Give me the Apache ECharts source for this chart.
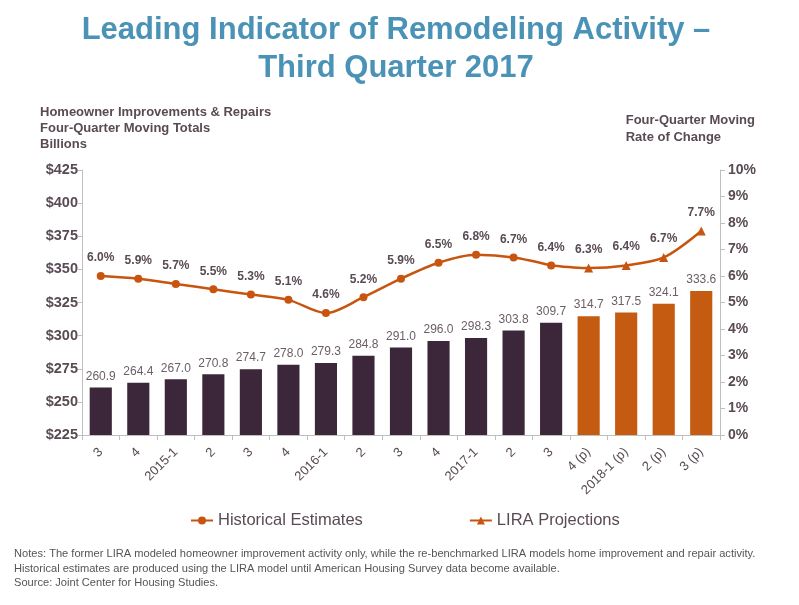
<!DOCTYPE html>
<html lang="en">
<head>
    <meta charset="UTF-8">
    <title>LIRA Third Quarter 2017</title>
    <script src="https://cdn.jsdelivr.net/npm/echarts@6/dist/echarts.min.js"></script>
    <style>
        html, body { margin: 0; padding: 0; background: #ffffff; }
        #chart { width: 799px; height: 605px; }
    </style>
</head>
<body>
<div id="chart"></div>
<script>
    // quarters along the x axis
    var quarters = ['3', '4', '2015-1', '2', '3', '4', '2016-1', '2', '3', '4',
        '2017-1', '2', '3', '4 (p)', '2018-1 (p)', '2 (p)', '3 (p)'];
    // four-quarter moving totals, billions
    var spending = [260.9, 264.4, 267.0, 270.8, 274.7, 278.0, 279.3, 284.8, 291.0,
        296.0, 298.3, 303.8, 309.7, 314.7, 317.5, 324.1, 333.6];
    // rate of change, %
    var histRate = [6.0, 5.9, 5.7, 5.5, 5.3, 5.1, 4.6, 5.2, 5.9, 6.5, 6.8, 6.7, 6.4];
    var projRate = [6.3, 6.4, 6.7, 7.7];
    var leftTicks = [225, 425, 25];
    var rightTicks = [0, 10, 1];

    var textCol = '#594a54';
    var font = '"Liberation Sans", Arial, sans-serif';
    var nHist = histRate.length;

    var barData = spending.map(function (v, i) {
        return { value: v, itemStyle: { color: i < nHist ? '#3c2639' : '#c55a11' } };
    });
    var histData = histRate.slice();
    // projection line starts at last historical point so the curve is joined
    var projData = [];
    for (var i = 0; i < nHist - 1; i++) projData.push('-');
    projData.push({ value: histRate[nHist - 1], symbol: 'none', label: { show: false } });
    projRate.forEach(function (v) { projData.push(v); });

    var chart = echarts.init(document.getElementById('chart'));
    var option = {
        backgroundColor: '#ffffff',
        textStyle: { fontFamily: font },
        animation: false,
        graphic: [
            {
                type: 'text', x: 396, y: 11,
                style: {
                    text: 'Leading Indicator of Remodeling Activity –\nThird Quarter 2017',
                    align: 'center', fill: '#4a93b6', font: 'bold 31px ' + font, lineHeight: 38
                }
            },
            {
                type: 'text', left: 40, top: 104,
                style: {
                    text: 'Homeowner Improvements & Repairs\nFour-Quarter Moving Totals\nBillions',
                    fill: textCol, font: 'bold 13px ' + font, lineHeight: 16
                }
            },
            {
                type: 'text', right: 44, top: 112,
                style: {
                    text: 'Four-Quarter Moving\nRate of Change', align: 'right',
                    fill: textCol, font: 'bold 13px ' + font, lineHeight: 17
                }
            },
            {
                type: 'text', left: 14, top: 547,
                style: {
                    text: 'Notes: The former LIRA modeled homeowner improvement activity only, while the re-benchmarked LIRA models home improvement and repair activity.\n' +
                        'Historical estimates are produced using the LIRA model until American Housing Survey data become available.\n' +
                        'Source: Joint Center for Housing Studies.',
                    fill: '#555555', font: '11.1px "Liberation Sans Narrow", ' + font, lineHeight: 14.5
                }
            }
        ],
        legend: {
            bottom: 71,
            left: 185,
            itemGap: 106,
            itemWidth: 22,
            itemHeight: 10,
            data: ['Historical Estimates', 'LIRA Projections'],
            textStyle: { color: textCol, fontSize: 16.5, fontFamily: font }
        },
        grid: { left: 82, right: 79, top: 170, bottom: 170 },
        xAxis: {
            type: 'category',
            data: quarters,
            axisLine: { lineStyle: { color: '#bfbfbf' } },
            axisTick: { show: true, length: 5, lineStyle: { color: '#bfbfbf' } },
            axisLabel: { rotate: 45, color: textCol, fontSize: 13, margin: 15 }
        },
        yAxis: [
            {
                type: 'value',
                min: leftTicks[0], max: leftTicks[1], interval: leftTicks[2],
                splitLine: { show: false },
                axisLine: { show: true, lineStyle: { color: '#bfbfbf' } },
                axisTick: { show: true, length: 4, lineStyle: { color: '#bfbfbf' } },
                axisLabel: { color: textCol, fontSize: 14.5, fontWeight: 'bold', margin: 4,
                    formatter: function (v) { return '$' + v; } }
            },
            {
                type: 'value',
                min: rightTicks[0], max: rightTicks[1], interval: rightTicks[2],
                splitLine: { show: false },
                axisLine: { show: true, lineStyle: { color: '#bfbfbf' } },
                axisTick: { show: true, length: 5, lineStyle: { color: '#bfbfbf' } },
                axisLabel: { color: textCol, fontSize: 14, fontWeight: 'bold', margin: 8,
                    formatter: '{value}%' }
            }
        ],
        series: [
            {
                name: 'Totals',
                type: 'bar',
                yAxisIndex: 0,
                barWidth: '59%',
                data: barData,
                label: { show: true, position: 'top', distance: 5, color: '#6b5e67', fontSize: 12,
                    formatter: function (p) { return p.value.toFixed(1); } }
            },
            {
                name: 'Historical Estimates',
                type: 'line',
                yAxisIndex: 1,
                smooth: 0.3,
                data: histData,
                symbol: 'circle',
                symbolSize: 8,
                lineStyle: { color: '#c8550f', width: 2.5 },
                itemStyle: { color: '#c8550f' },
                label: { show: true, position: 'top', distance: 8, color: textCol, fontSize: 12, fontWeight: 'bold',
                    formatter: function (p) { return p.value.toFixed(1) + '%'; } },
                z: 5
            },
            {
                name: 'LIRA Projections',
                type: 'line',
                yAxisIndex: 1,
                smooth: 0.3,
                data: projData,
                symbol: 'triangle',
                symbolSize: 9,
                lineStyle: { color: '#c8550f', width: 2.5 },
                itemStyle: { color: '#c8550f' },
                label: { show: true, position: 'top', distance: 8, color: textCol, fontSize: 12, fontWeight: 'bold',
                    formatter: function (p) { return p.value.toFixed(1) + '%'; } },
                z: 5
            }
        ]
    };
    chart.setOption(option);
</script>
</body>
</html>
